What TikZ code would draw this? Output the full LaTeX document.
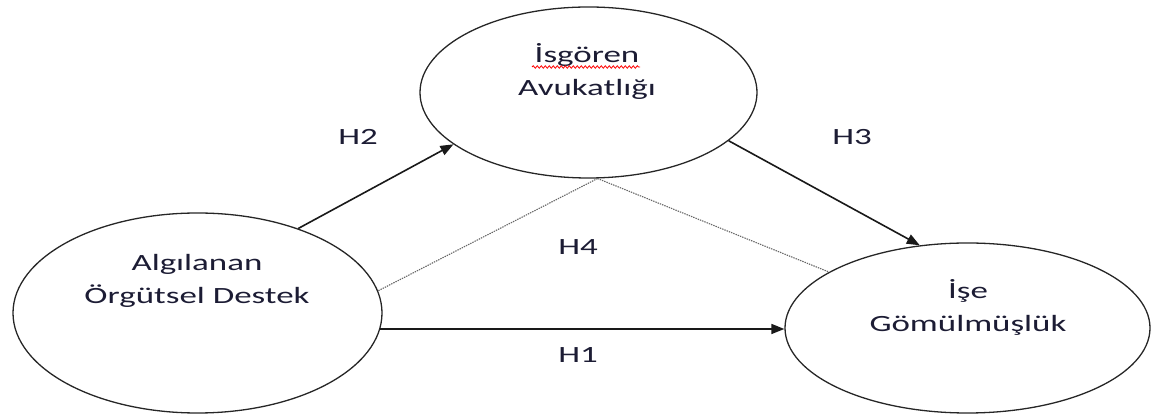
\documentclass[tikz,border=0pt]{standalone}
\usepackage{fontspec}
\setmainfont{Carlito}[FakeStretch=1.5]
\usetikzlibrary{shapes.geometric,arrows.meta,decorations.pathmorphing}
\definecolor{yazirengi}{RGB}{28,28,52}
\tikzset{
  oval/.style={draw=black!85, line width=1.3pt, ellipse, inner sep=0pt},
  yazi/.style={align=center, text=yazirengi, font=\fontsize{23.3}{33}\selectfont},
  yol/.style={->, line width=1.6pt, black!90},
  noktali/.style={line width=1.1pt, black!60, dash pattern=on 1.4pt off 1pt},
}
\begin{document}
\begin{tikzpicture}[>={Triangle[length=13pt,width=10pt]}, x=1pt, y=1pt]
  \useasboundingbox (0,0) rectangle (1153,417);
  % ovals
  \node[oval, minimum width=337pt, minimum height=171pt] (isg) at (588.5,324.5) {};
  \node[oval, minimum width=369pt, minimum height=200pt] (alg) at (197.5,104) {};
  \node[oval, minimum width=365pt, minimum height=170pt] (ise) at (967.5,89) {};
  % texts
  \node[yazi] (isgyazi) at (587,345.5) {İsgören\\Avukatlığı};
  \node[yazi] (algyazi) at (197,136) {Algılanan\\Örgütsel Destek};
  \node[yazi] (iseyazi) at (968,109.5) {İşe\\Gömülmüşlük};
  \draw[red, line width=0.8pt, decorate, decoration={snake, amplitude=1.2pt, segment length=4pt}] (532,350) -- (640,350);
  % hypotheses
  \draw[yol] (alg.40.5) -- (isg.201);
  \draw[yol] (isg.-19.7) -- (ise.120);
  \draw[yol] (alg.-5.3) -- (alg.-5.3 -| ise.west);
  \draw[noktali] (isg.-84.5) -- (alg.7.8);
  \draw[noktali] (isg.-84.5) -- (ise.158.5);
  \node[yazi] (h1) at (578,62) {H1};
  \node[yazi] (h2) at (358,280) {H2};
  \node[yazi] (h3) at (852,280) {H3};
  \node[yazi] (h4) at (578,170) {H4};
\end{tikzpicture}
\end{document}
